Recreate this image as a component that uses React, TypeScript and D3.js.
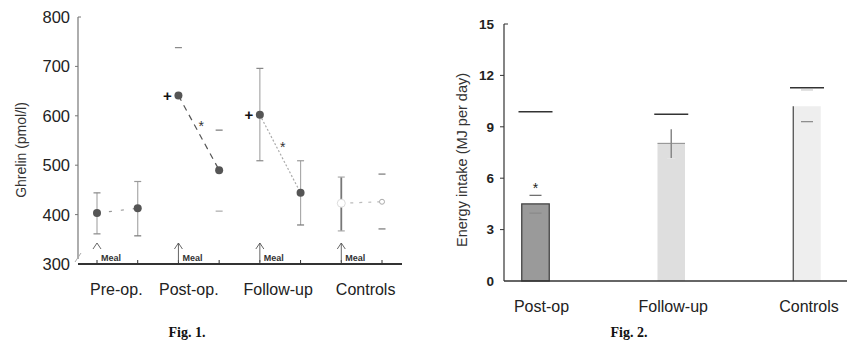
import React from 'react';
import * as d3 from 'd3';

// Fig. 1 data: ghrelin before / after the meal, per group
const groups = ['Pre-op.', 'Post-op.', 'Follow-up', 'Controls'];
const ghrelinBefore = [403, 641, 602, 423];
const ghrelinAfter = [413, 490, 444, 426];
const beforeLow = [361, null, 509, 367];
const beforeHigh = [444, 738, 696, 476];
const afterLow = [357, 407, 379, 371];
const afterHigh = [467, 571, 509, 482];
const ghrelinTicks = [300, 400, 500, 600, 700, 800];

// Fig. 2 data: energy intake
const intakeGroups = ['Post-op', 'Follow-up', 'Controls'];
const intake = [4.5, 8.03, 10.2];
const intakeLow = [3.96, 7.15, 9.3];
const intakeHigh = [5.0, 8.85, 11.15];
const intakeRef = [9.88, 9.73, 11.28];
const intakeTicks = [0, 3, 6, 9, 12, 15];

// per-group styling for fig. 1
const pairDash = ['3,9', '6,5', '2,2', '3,6'];
const pairColor = ['#999', '#555', '#aaa', '#bbb'];
const labelShift = [-1, -10, -2, 4];
const barFill = ['#9a9a9a', '#dedede', '#eeeeee'];

const font = 'Arial, "Liberation Sans", sans-serif';
const serif = "'Liberation Serif', 'DejaVu Serif', serif";
const ink = '#222';

const slots = groups.flatMap((g) => [`${g}-a`, `${g}-b`]);
const x1 = d3.scalePoint<string>().domain(slots).range([97, 382]);
const y1 = d3.scaleLinear().domain([300, 800]).range([264, 17]);

const x2 = d3.scalePoint<string>().domain(intakeGroups).range([535.5, 807]);
const y2 = d3.scaleLinear().domain([0, 15]).range([281, 24]);

const Fig1: React.FC = () => {
  const axisX = 78;
  return (
    <g fontFamily={font}>
      {/* y axis */}
      <line x1={axisX} x2={axisX} y1={y1(800)} y2={y1(310)} stroke="#777" strokeWidth={1.2} />
      <line x1={axisX} x2={axisX + 3} y1={y1(800)} y2={y1(800)} stroke="#777" />
      <line x1={75} y1={262} x2={81} y2={253} stroke="#aaa" />
      {ghrelinTicks.map((t) => (
        <g key={t}>
          {t > 300 && t < 800 && (
            <line x1={axisX - 3} x2={axisX} y1={y1(t)} y2={y1(t)} stroke="#777" />
          )}
          <text x={70} y={y1(t)} dy="0.36em" textAnchor="end" fontSize={16.5} fill={ink}>{t}</text>
        </g>
      ))}
      <text
        transform="translate(26,150) rotate(-90)"
        textAnchor="middle"
        fontSize={14}
        fill="#333"
      >
        Ghrelin (pmol/l)
      </text>

      {/* baseline */}
      <line x1={axisX} x2={402} y1={y1(300)} y2={y1(300)} stroke="#333" strokeWidth={2} />
      {slots.map((s) => (
        <line key={s} x1={x1(s)} x2={x1(s)} y1={y1(300) - 4} y2={y1(300)} stroke="#333" />
      ))}

      {groups.map((g, i) => {
        const xa = x1(`${g}-a`) as number;
        const xb = x1(`${g}-b`) as number;
        const ya = y1(ghrelinBefore[i]);
        const yb = y1(ghrelinAfter[i]);
        const lowA = beforeLow[i];
        const cap = (x: number, v: number, c = '#999') => (
          <line x1={x - 3.5} x2={x + 3.5} y1={y1(v)} y2={y1(v)} stroke={c} strokeWidth={1.2} />
        );
        const controls = i === 3;
        const postOp = i === 1;
        return (
          <g key={g}>
            <line
              x1={xa} y1={ya} x2={xb} y2={yb}
              stroke={pairColor[i]}
              strokeDasharray={pairDash[i]}
              strokeWidth={1.2}
            />
            {/* before meal */}
            {lowA !== null && (
              <line x1={xa} x2={xa} y1={y1(lowA)} y2={y1(beforeHigh[i])}
                stroke={controls ? '#777' : '#aaa'} strokeWidth={controls ? 1.8 : 1.2} />
            )}
            {cap(xa, beforeHigh[i], controls ? '#aaa' : '#888')}
            {lowA !== null && cap(xa, lowA, controls ? '#aaa' : '#888')}
            <circle cx={xa} cy={ya} r={4}
              fill={controls ? '#fff' : '#555'} stroke={controls ? '#ddd' : 'none'} />

            {/* after meal */}
            {!postOp && !controls && (
              <line x1={xb} x2={xb} y1={y1(afterLow[i])} y2={y1(afterHigh[i])}
                stroke="#aaa" strokeWidth={1.2} />
            )}
            {cap(xb, afterHigh[i], postOp || controls ? '#777' : '#999')}
            {cap(xb, afterLow[i], postOp ? '#aaa' : '#777')}
            <circle cx={xb} cy={yb} r={controls ? 2.5 : 4}
              fill={controls ? '#fff' : '#555'} stroke={controls ? '#aaa' : 'none'} />

            {/* meal arrow */}
            <path
              d={`M${xa - 4},249 L${xa},243 L${xa + 4},249`}
              fill="none" stroke="#555" strokeWidth={0.9}
            />
            {i > 0 && (
              <line x1={xa} x2={xa} y1={243} y2={262} stroke="#555" strokeWidth={0.9} />
            )}
            <text x={xa + 4} y={261} fontSize={9} fontWeight="bold" fill="#333">Meal</text>

            {/* group label */}
            <text
              x={(xa + xb) / 2 + labelShift[i]}
              y={295}
              textAnchor="middle"
              fontSize={16}
              fill={ink}
            >
              {g}
            </text>

            {(i === 1 || i === 2) && (
              <>
                <text x={xa - 11} y={ya} dy="0.35em" textAnchor="middle"
                  fontSize={15} fontWeight="bold" fill="#111">+</text>
                <text x={(xa + xb) / 2 + 2.5} y={(ya + yb) / 2 - 10} dy="0.55em"
                  textAnchor="middle" fontSize={14} fill="#333">*</text>
              </>
            )}
          </g>
        );
      })}

      <text x={187} y={337} textAnchor="middle" fontFamily={serif}
        fontWeight="bold" fontSize={14} fill="#111">Fig. 1.</text>
    </g>
  );
};

const Fig2: React.FC = () => {
  const axisX = 504;
  const barW = 27.5;
  const refW = 34;
  return (
    <g fontFamily={font}>
      {intakeGroups.map((g, i) => {
        const cx = x2(g) as number;
        const top = y2(intake[i]);
        const base = y2(0);
        return (
          <g key={g}>
            <rect x={cx - barW / 2} y={top} width={barW} height={base - top}
              fill={barFill[i]}
              stroke={i === 0 ? '#444' : 'none'}
              strokeWidth={1.3} />
            {i === 1 && (
              <>
                <line x1={cx - barW / 2} x2={cx + barW / 2} y1={top} y2={top} stroke="#999" strokeWidth={1.2} />
                <line x1={cx} x2={cx} y1={y2(intakeLow[i])} y2={y2(intakeHigh[i])} stroke="#888" strokeWidth={1.5} />
                <line x1={cx - 4} x2={cx + 4} y1={y2(intakeLow[i])} y2={y2(intakeLow[i])} stroke="#e4e4e4" />
              </>
            )}
            {i === 2 && (
              <line x1={cx - barW / 2} x2={cx - barW / 2} y1={top} y2={base} stroke="#444" strokeWidth={1.2} />
            )}
            {i !== 1 && (
              <>
                <line x1={cx - 6} x2={cx + 6} y1={y2(intakeHigh[i])} y2={y2(intakeHigh[i])}
                  stroke={i === 0 ? '#666' : '#ccc'} strokeWidth={1.2} />
                <line x1={cx - 6} x2={cx + 6} y1={y2(intakeLow[i])} y2={y2(intakeLow[i])}
                  stroke="#888" strokeWidth={1.2} />
              </>
            )}
            <line x1={cx - refW / 2} x2={cx + refW / 2} y1={y2(intakeRef[i])} y2={y2(intakeRef[i])}
              stroke="#333" strokeWidth={1.6} />
            {i === 0 && (
              <text x={cx} y={y2(intakeHigh[i]) - 10} dy="0.55em" textAnchor="middle" fontSize={14} fill="#222">*</text>
            )}
            <text x={cx + (i === 0 ? 6 : 2)} y={312} textAnchor="middle" fontSize={16} fill={ink}>{g}</text>
          </g>
        );
      })}

      {/* axes */}
      <line x1={axisX} x2={axisX} y1={y2(15)} y2={y2(0)} stroke="#333" strokeWidth={1.2} />
      <line x1={axisX} x2={axisX + 4} y1={y2(15)} y2={y2(15)} stroke="#333" />
      {intakeTicks.map((t) => (
        <g key={t}>
          {t > 0 && t < 15 && (
            <line x1={axisX - 4} x2={axisX} y1={y2(t)} y2={y2(t)} stroke="#333" />
          )}
          <text x={494} y={y2(t)} dy="0.36em" textAnchor="end" fontSize={13.5} fontWeight="bold" fill={ink}>{t}</text>
        </g>
      ))}
      <line x1={axisX} x2={847} y1={y2(0)} y2={y2(0)} stroke="#333" strokeWidth={1.5} />
      <text
        transform="translate(467,160) rotate(-90)"
        textAnchor="middle"
        fontSize={14.5}
        fill="#333"
      >
        Energy intake (MJ per day)
      </text>

      <text x={629} y={337} textAnchor="middle" fontFamily={serif}
        fontWeight="bold" fontSize={14} fill="#111">Fig. 2.</text>
    </g>
  );
};

const App: React.FC = () => (
  <svg
    width={852}
    height={349}
    style={{ position: 'absolute', left: 0, top: 0, background: '#fff' }}
  >
    <rect width={852} height={349} fill="#fff" />
    <Fig1 />
    <Fig2 />
  </svg>
);

export default App;
